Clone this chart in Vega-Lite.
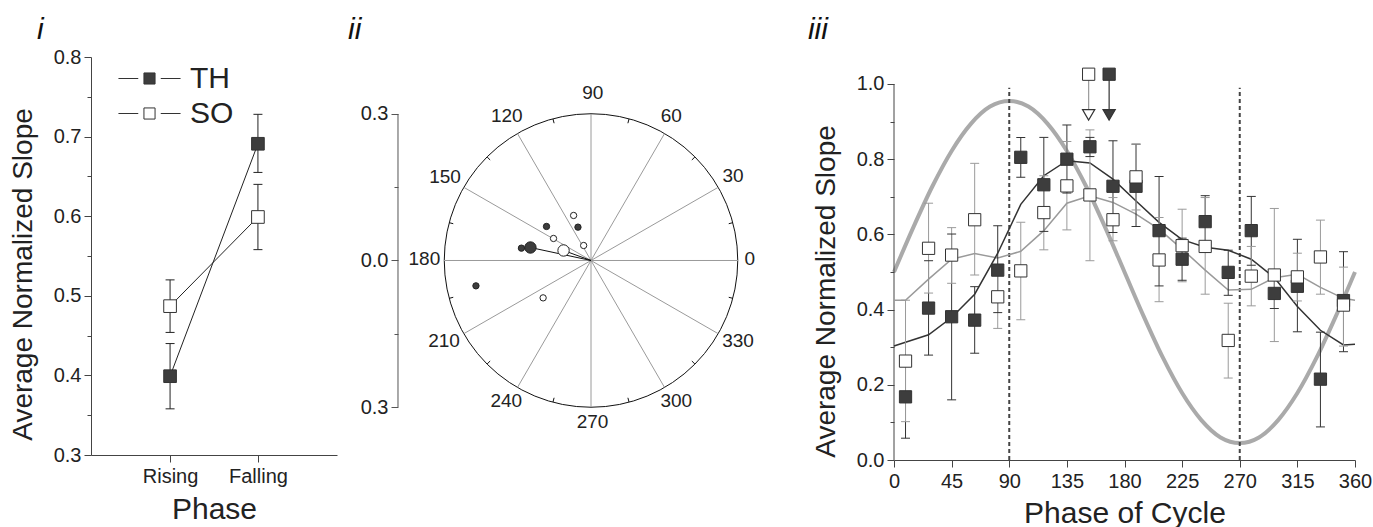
{
  "$schema": "https://vega.github.io/schema/vega-lite/v6.json",
  "autosize": {"type": "pad"},
  "padding": {"left": 9, "top": 14, "right": 0, "bottom": 0},
  "spacing": 0,
  "config": {
    "view": {"stroke": null},
    "font": "Liberation Sans",
    "axis": {"grid": false, "domainColor": "#444", "tickColor": "#444", "labelColor": "#222", "titleColor": "#222", "labelFont": "Liberation Sans", "titleFont": "Liberation Sans", "labelFontSize": 20, "titleFontSize": 28, "titleFontWeight": "normal", "labelPadding": 3},
    "text": {"font": "Liberation Sans"},
    "legend": {"labelFont": "Liberation Sans"}
  },
  "hconcat": [
    {
      "width": 246,
      "height": 398,
      "data": {"values": [
        {"phase": 1, "series": "TH", "mean": 0.399, "lo": 0.358, "hi": 0.440},
        {"phase": 2, "series": "TH", "mean": 0.691, "lo": 0.655, "hi": 0.728},
        {"phase": 1, "series": "SO", "mean": 0.487, "lo": 0.454, "hi": 0.520},
        {"phase": 2, "series": "SO", "mean": 0.599, "lo": 0.558, "hi": 0.640}
      ]},
      "resolve": {"axis": {"x": "independent", "y": "independent"}},
      "layer": [
        {
          "mark": {"type": "line", "color": "#222", "strokeWidth": 1},
          "encoding": {
            "x": {"field": "phase", "type": "quantitative", "scale": {"domain": [0.1, 2.9], "nice": false, "zero": false},
                  "axis": {"values": [1, 2], "labelExpr": "datum.value == 1 ? 'Rising' : 'Falling'", "title": "Phase", "titleFontSize": 30, "titlePadding": 8, "labelPadding": 4, "tickSize": 7}},
            "y": {"field": "mean", "type": "quantitative", "scale": {"domain": [0.3, 0.8], "nice": false, "zero": false},
                  "axis": {"orient": "left", "values": [0.3, 0.4, 0.5, 0.6, 0.7, 0.8], "format": ".1f", "tickSize": 7, "title": "Average Normalized Slope", "titlePadding": 16, "titleY": 217}},
            "detail": {"field": "series", "type": "nominal"}
          }
        },
        {
          "mark": {"type": "rule", "color": "#222", "strokeWidth": 1},
          "encoding": {
            "x": {"field": "phase", "type": "quantitative", "axis": null},
            "y": {"field": "lo", "type": "quantitative", "axis": {"orient": "left", "values": [0.35, 0.45, 0.55, 0.65, 0.75], "labels": false, "domain": false, "tickSize": 4, "title": null}},
            "y2": {"field": "hi"}
          }
        },
        {
          "mark": {"type": "tick", "orient": "horizontal", "size": 9, "thickness": 1, "color": "#222", "opacity": 1},
          "encoding": {
            "x": {"field": "phase", "type": "quantitative", "axis": null},
            "y": {"field": "lo", "type": "quantitative", "axis": null}
          }
        },
        {
          "mark": {"type": "tick", "orient": "horizontal", "size": 9, "thickness": 1, "color": "#222", "opacity": 1},
          "encoding": {
            "x": {"field": "phase", "type": "quantitative", "axis": null},
            "y": {"field": "hi", "type": "quantitative", "axis": null}
          }
        },
        {
          "mark": {"type": "point", "shape": "square", "filled": true, "size": 160, "strokeWidth": 1, "opacity": 1},
          "encoding": {
            "x": {"field": "phase", "type": "quantitative", "axis": null},
            "y": {"field": "mean", "type": "quantitative", "axis": null},
            "fill": {"field": "series", "type": "nominal", "scale": {"domain": ["TH", "SO"], "range": ["#3d3d3d", "#ffffff"]},
                     "legend": {"title": null, "orient": "none", "legendX": 43, "legendY": 6, "padding": 0, "symbolType": "M-2.07,0H-0.75M0.75,0H2.07M-0.37,-0.37H0.37V0.37H-0.37Z", "symbolSize": 900, "symbolStrokeWidth": 1, "labelFontSize": 30, "labelOffset": 25, "labelColor": "#222", "rowPadding": 4}},
            "stroke": {"field": "series", "type": "nominal", "scale": {"domain": ["TH", "SO"], "range": ["#333333", "#333333"]},
                     "legend": {"title": null, "orient": "none", "legendX": 43, "legendY": 6, "padding": 0, "symbolType": "M-2.07,0H-0.75M0.75,0H2.07M-0.37,-0.37H0.37V0.37H-0.37Z", "symbolSize": 900, "symbolStrokeWidth": 1, "labelFontSize": 30, "labelOffset": 25, "labelColor": "#222", "rowPadding": 4}}
          }
        },
        {
          "data": {"values": [{"label": "i", "x": -0.515, "y": 0.8226}]},
          "mark": {"type": "text", "fontSize": 30, "fontStyle": "italic", "color": "#111", "align": "left", "baseline": "alphabetic"},
          "encoding": {
            "x": {"field": "x", "type": "quantitative", "axis": null},
            "y": {"field": "y", "type": "quantitative", "axis": null},
            "text": {"field": "label", "type": "nominal"}
          }
        }
      ]
    },
    {"width": 11, "height": 1, "data": {"values": []}, "mark": "point"},
    {
      "width": 294,
      "height": 350,
      "resolve": {"axis": {"x": "independent", "y": "independent"}},
      "layer": [
        {
          "data": {"values": [{"x": 0, "y": 0}]},
          "mark": {"type": "point", "shape": "circle", "filled": false, "size": 86142, "stroke": "#111", "strokeWidth": 1, "opacity": 1},
          "encoding": {
            "x": {"field": "x", "type": "quantitative", "scale": {"domain": [-0.3, 0.3], "nice": false, "zero": false}, "axis": null},
            "y": {"field": "y", "type": "quantitative", "scale": {"domain": [-0.3, 0.4167], "nice": false, "zero": false},
                  "axis": {"orient": "left", "values": [-0.3, 0, 0.3], "labelExpr": "format(abs(datum.value), '.1f')", "tickSize": 7, "title": null, "offset": 46, "domain": false, "tickColor": "#555"}}
          }
        },
        {
          "data": {"values": [{"x": -0.3939, "y": -0.3, "y2": 0.3}]},
          "mark": {"type": "rule", "color": "#555", "strokeWidth": 1},
          "encoding": {
            "x": {"field": "x", "type": "quantitative", "axis": null},
            "y": {"field": "y", "type": "quantitative", "axis": {"orient": "left", "values": [-0.15, 0.15], "labels": false, "domain": false, "tickSize": 4, "title": null, "offset": 46, "tickColor": "#555"}},
            "y2": {"field": "y2"}
          }
        },
        {
          "data": {"values": [
            {"x": 0.3, "y": 0, "x2": -0.3, "y2": 0},
            {"x": 0.2598, "y": 0.15, "x2": -0.2598, "y2": -0.15},
            {"x": 0.15, "y": 0.2598, "x2": -0.15, "y2": -0.2598},
            {"x": 0, "y": 0.3, "x2": 0, "y2": -0.3},
            {"x": -0.15, "y": 0.2598, "x2": 0.15, "y2": -0.2598},
            {"x": -0.2598, "y": 0.15, "x2": 0.2598, "y2": -0.15}
          ]},
          "mark": {"type": "rule", "color": "#9a9a9a", "strokeWidth": 1},
          "encoding": {
            "x": {"field": "x", "type": "quantitative", "axis": null},
            "y": {"field": "y", "type": "quantitative", "axis": null},
            "x2": {"field": "x2"},
            "y2": {"field": "y2"}
          }
        },
        {
          "data": {"values": [
            {"x": 0.2898, "y": 0.0776, "x2": 0.2811, "y2": 0.0753},
            {"x": 0.2121, "y": 0.2121, "x2": 0.2058, "y2": 0.2058},
            {"x": 0.0776, "y": 0.2898, "x2": 0.0753, "y2": 0.2811},
            {"x": -0.0776, "y": 0.2898, "x2": -0.0753, "y2": 0.2811},
            {"x": -0.2121, "y": 0.2121, "x2": -0.2058, "y2": 0.2058},
            {"x": -0.2898, "y": 0.0776, "x2": -0.2811, "y2": 0.0753},
            {"x": -0.2898, "y": -0.0776, "x2": -0.2811, "y2": -0.0753},
            {"x": -0.2121, "y": -0.2121, "x2": -0.2058, "y2": -0.2058},
            {"x": -0.0776, "y": -0.2898, "x2": -0.0753, "y2": -0.2811},
            {"x": 0.0776, "y": -0.2898, "x2": 0.0753, "y2": -0.2811},
            {"x": 0.2121, "y": -0.2121, "x2": 0.2058, "y2": -0.2058},
            {"x": 0.2898, "y": -0.0776, "x2": 0.2811, "y2": -0.0753}
          ]},
          "mark": {"type": "rule", "color": "#111", "strokeWidth": 1},
          "encoding": {
            "x": {"field": "x", "type": "quantitative", "axis": null},
            "y": {"field": "y", "type": "quantitative", "axis": null},
            "x2": {"field": "x2"},
            "y2": {"field": "y2"}
          }
        },
        {
          "data": {"values": [
            {"x": 0, "y": 0, "x2": -0.1236, "y2": 0.0266},
            {"x": 0, "y": 0, "x2": -0.056, "y2": 0.0205}
          ]},
          "mark": {"type": "rule", "color": "#111", "strokeWidth": 1},
          "encoding": {
            "x": {"field": "x", "type": "quantitative", "axis": null},
            "y": {"field": "y", "type": "quantitative", "axis": null},
            "x2": {"field": "x2"},
            "y2": {"field": "y2"}
          }
        },
        {
          "data": {"values": [
            {"series": "TH", "kind": "small", "x": -0.0908, "y": 0.0697},
            {"series": "TH", "kind": "small", "x": -0.0266, "y": 0.0683},
            {"series": "TH", "kind": "small", "x": -0.142, "y": 0.0253},
            {"series": "TH", "kind": "small", "x": -0.2348, "y": -0.0519},
            {"series": "TH", "kind": "large", "x": -0.1236, "y": 0.0266},
            {"series": "SO", "kind": "small", "x": -0.0355, "y": 0.0922},
            {"series": "SO", "kind": "small", "x": -0.0765, "y": 0.0451},
            {"series": "SO", "kind": "small", "x": -0.015, "y": 0.0307},
            {"series": "SO", "kind": "small", "x": -0.0977, "y": -0.0765},
            {"series": "SO", "kind": "large", "x": -0.056, "y": 0.0205}
          ]},
          "mark": {"type": "point", "shape": "circle", "filled": true, "stroke": "#222", "strokeWidth": 1, "opacity": 1},
          "encoding": {
            "x": {"field": "x", "type": "quantitative", "axis": null},
            "y": {"field": "y", "type": "quantitative", "axis": null},
            "fill": {"field": "series", "type": "nominal", "scale": {"domain": ["TH", "SO"], "range": ["#333333", "#ffffff"]}, "legend": null},
            "size": {"field": "kind", "type": "nominal", "scale": {"domain": ["small", "large"], "range": [40, 130]}, "legend": null}
          }
        },
        {
          "data": {"values": [
            {"label": "90", "x": 0.0035, "y": 0.342},
            {"label": "60", "x": 0.164, "y": 0.295},
            {"label": "30", "x": 0.290, "y": 0.172},
            {"label": "0", "x": 0.324, "y": 0.003},
            {"label": "330", "x": 0.300, "y": -0.165},
            {"label": "300", "x": 0.174, "y": -0.288},
            {"label": "270", "x": 0.003, "y": -0.331},
            {"label": "240", "x": -0.173, "y": -0.288},
            {"label": "210", "x": -0.300, "y": -0.165},
            {"label": "180", "x": -0.340, "y": 0.003},
            {"label": "150", "x": -0.298, "y": 0.171},
            {"label": "120", "x": -0.172, "y": 0.295}
          ]},
          "mark": {"type": "text", "fontSize": 19, "color": "#222", "align": "center", "baseline": "middle"},
          "encoding": {
            "x": {"field": "x", "type": "quantitative", "axis": null},
            "y": {"field": "y", "type": "quantitative", "axis": null},
            "text": {"field": "label", "type": "nominal"}
          }
        },
        {
          "data": {"values": [{"label": "ii", "x": -0.4959, "y": 0.4536}]},
          "mark": {"type": "text", "fontSize": 30, "fontStyle": "italic", "color": "#111", "align": "left", "baseline": "alphabetic"},
          "encoding": {
            "x": {"field": "x", "type": "quantitative", "axis": null},
            "y": {"field": "y", "type": "quantitative", "axis": null},
            "text": {"field": "label", "type": "nominal"}
          }
        }
      ]
    },
    {"width": 51, "height": 1, "data": {"values": []}, "mark": "point"},
    {
      "width": 461,
      "height": 403,
      "resolve": {"axis": {"x": "independent", "y": "independent"}},
      "layer": [
        {
          "data": {"values": [
            {"phase": 0, "val": 0.500}, {"phase": 15, "val": 0.618}, {"phase": 30, "val": 0.728}, {"phase": 45, "val": 0.822},
            {"phase": 60, "val": 0.894}, {"phase": 75, "val": 0.940}, {"phase": 90, "val": 0.955}, {"phase": 105, "val": 0.940},
            {"phase": 120, "val": 0.894}, {"phase": 135, "val": 0.822}, {"phase": 150, "val": 0.728}, {"phase": 165, "val": 0.618},
            {"phase": 180, "val": 0.500}, {"phase": 195, "val": 0.382}, {"phase": 210, "val": 0.272}, {"phase": 225, "val": 0.178},
            {"phase": 240, "val": 0.106}, {"phase": 255, "val": 0.060}, {"phase": 270, "val": 0.045}, {"phase": 285, "val": 0.060},
            {"phase": 300, "val": 0.106}, {"phase": 315, "val": 0.178}, {"phase": 330, "val": 0.272}, {"phase": 345, "val": 0.382},
            {"phase": 360, "val": 0.500}
          ]},
          "mark": {"type": "line", "color": "#aaaaaa", "strokeWidth": 4, "interpolate": "monotone"},
          "encoding": {
            "x": {"field": "phase", "type": "quantitative", "scale": {"domain": [0, 360], "nice": false, "zero": false},
                  "axis": {"values": [0, 45, 90, 135, 180, 225, 270, 315, 360], "title": "Phase of Cycle", "titleFontSize": 30, "titlePadding": 7, "labelPadding": 4, "labelFlush": false, "tickSize": 7}},
            "y": {"field": "val", "type": "quantitative", "scale": {"domain": [0, 1.0718], "nice": false, "zero": false},
                  "axis": {"orient": "left", "values": [0, 0.2, 0.4, 0.6, 0.8, 1.0], "format": ".1f", "tickSize": 7, "domain": false, "title": "Average Normalized Slope", "titlePadding": 16, "titleY": 234}}
          }
        },
        {
          "data": {"values": [{"phase": 0, "lo": 0, "hi": 1}]},
          "mark": {"type": "rule", "color": "#444", "strokeWidth": 1},
          "encoding": {
            "x": {"field": "phase", "type": "quantitative", "axis": null},
            "y": {"field": "lo", "type": "quantitative", "axis": {"orient": "left", "values": [0.1, 0.3, 0.5, 0.7, 0.9], "labels": false, "domain": false, "tickSize": 4, "title": null}},
            "y2": {"field": "hi"}
          }
        },
        {
          "data": {"values": [{"phase": 90}, {"phase": 270}]},
          "mark": {"type": "rule", "color": "#444", "strokeWidth": 2, "strokeDash": [4, 3]},
          "encoding": {
            "x": {"field": "phase", "type": "quantitative", "axis": null},
            "y": {"datum": 0, "type": "quantitative", "axis": null},
            "y2": {"datum": 0.99}
          }
        },
        {
          "data": {"values": [
            {"series": "SO", "phase": 0, "val": 0.425}, {"series": "SO", "phase": 9, "val": 0.425}, {"series": "SO", "phase": 27, "val": 0.481},
            {"series": "SO", "phase": 45, "val": 0.534}, {"series": "SO", "phase": 63, "val": 0.549}, {"series": "SO", "phase": 81, "val": 0.537},
            {"series": "SO", "phase": 99, "val": 0.555}, {"series": "SO", "phase": 117, "val": 0.610}, {"series": "SO", "phase": 135, "val": 0.683},
            {"series": "SO", "phase": 153, "val": 0.703}, {"series": "SO", "phase": 171, "val": 0.685}, {"series": "SO", "phase": 189, "val": 0.654},
            {"series": "SO", "phase": 207, "val": 0.614}, {"series": "SO", "phase": 225, "val": 0.561}, {"series": "SO", "phase": 243, "val": 0.505},
            {"series": "SO", "phase": 261, "val": 0.452}, {"series": "SO", "phase": 279, "val": 0.454}, {"series": "SO", "phase": 297, "val": 0.485},
            {"series": "SO", "phase": 315, "val": 0.494}, {"series": "SO", "phase": 333, "val": 0.459}, {"series": "SO", "phase": 351, "val": 0.430},
            {"series": "SO", "phase": 360, "val": 0.425},
            {"series": "TH", "phase": 0, "val": 0.303}, {"series": "TH", "phase": 9, "val": 0.313}, {"series": "TH", "phase": 27, "val": 0.333},
            {"series": "TH", "phase": 45, "val": 0.379}, {"series": "TH", "phase": 63, "val": 0.441}, {"series": "TH", "phase": 81, "val": 0.550},
            {"series": "TH", "phase": 99, "val": 0.680}, {"series": "TH", "phase": 117, "val": 0.756}, {"series": "TH", "phase": 135, "val": 0.796},
            {"series": "TH", "phase": 153, "val": 0.790}, {"series": "TH", "phase": 171, "val": 0.747}, {"series": "TH", "phase": 189, "val": 0.689},
            {"series": "TH", "phase": 207, "val": 0.632}, {"series": "TH", "phase": 225, "val": 0.586}, {"series": "TH", "phase": 243, "val": 0.566},
            {"series": "TH", "phase": 261, "val": 0.558}, {"series": "TH", "phase": 279, "val": 0.534}, {"series": "TH", "phase": 297, "val": 0.485},
            {"series": "TH", "phase": 315, "val": 0.408}, {"series": "TH", "phase": 333, "val": 0.345}, {"series": "TH", "phase": 351, "val": 0.306},
            {"series": "TH", "phase": 360, "val": 0.308}
          ]},
          "mark": {"type": "line", "strokeWidth": 1.5},
          "encoding": {
            "x": {"field": "phase", "type": "quantitative", "axis": null},
            "y": {"field": "val", "type": "quantitative", "axis": null},
            "color": {"field": "series", "type": "nominal", "scale": {"domain": ["TH", "SO"], "range": ["#333333", "#9a9a9a"]}, "legend": null}
          }
        },
        {
          "data": {"values": [
            {"series": "TH", "phase": 9, "mean": 0.168, "lo": 0.058, "hi": 0.278},
            {"series": "TH", "phase": 27, "mean": 0.404, "lo": 0.279, "hi": 0.530},
            {"series": "TH", "phase": 45, "mean": 0.381, "lo": 0.160, "hi": 0.601},
            {"series": "TH", "phase": 63, "mean": 0.372, "lo": 0.284, "hi": 0.461},
            {"series": "TH", "phase": 81, "mean": 0.505, "lo": 0.392, "hi": 0.623},
            {"series": "TH", "phase": 99, "mean": 0.805, "lo": 0.752, "hi": 0.858},
            {"series": "TH", "phase": 117, "mean": 0.732, "lo": 0.608, "hi": 0.858},
            {"series": "TH", "phase": 135, "mean": 0.800, "lo": 0.710, "hi": 0.891},
            {"series": "TH", "phase": 153, "mean": 0.833, "lo": 0.807, "hi": 0.858},
            {"series": "TH", "phase": 171, "mean": 0.728, "lo": 0.605, "hi": 0.849},
            {"series": "TH", "phase": 189, "mean": 0.728, "lo": 0.621, "hi": 0.840},
            {"series": "TH", "phase": 207, "mean": 0.610, "lo": 0.463, "hi": 0.754},
            {"series": "TH", "phase": 225, "mean": 0.534, "lo": 0.478, "hi": 0.590},
            {"series": "TH", "phase": 243, "mean": 0.634, "lo": 0.565, "hi": 0.703},
            {"series": "TH", "phase": 261, "mean": 0.499, "lo": 0.438, "hi": 0.558},
            {"series": "TH", "phase": 279, "mean": 0.610, "lo": 0.518, "hi": 0.701},
            {"series": "TH", "phase": 297, "mean": 0.443, "lo": 0.403, "hi": 0.483},
            {"series": "TH", "phase": 315, "mean": 0.462, "lo": 0.341, "hi": 0.587},
            {"series": "TH", "phase": 333, "mean": 0.215, "lo": 0.088, "hi": 0.340},
            {"series": "TH", "phase": 351, "mean": 0.424, "lo": 0.288, "hi": 0.554},
            {"series": "SO", "phase": 9, "mean": 0.263, "lo": 0.102, "hi": 0.425},
            {"series": "SO", "phase": 27, "mean": 0.563, "lo": 0.444, "hi": 0.683},
            {"series": "SO", "phase": 45, "mean": 0.545, "lo": 0.470, "hi": 0.618},
            {"series": "SO", "phase": 63, "mean": 0.639, "lo": 0.492, "hi": 0.789},
            {"series": "SO", "phase": 81, "mean": 0.434, "lo": 0.350, "hi": 0.520},
            {"series": "SO", "phase": 99, "mean": 0.503, "lo": 0.373, "hi": 0.632},
            {"series": "SO", "phase": 117, "mean": 0.658, "lo": 0.559, "hi": 0.756},
            {"series": "SO", "phase": 135, "mean": 0.729, "lo": 0.612, "hi": 0.847},
            {"series": "SO", "phase": 153, "mean": 0.705, "lo": 0.530, "hi": 0.878},
            {"series": "SO", "phase": 171, "mean": 0.639, "lo": 0.583, "hi": 0.698},
            {"series": "SO", "phase": 189, "mean": 0.753, "lo": 0.665, "hi": 0.840},
            {"series": "SO", "phase": 207, "mean": 0.532, "lo": 0.421, "hi": 0.645},
            {"series": "SO", "phase": 225, "mean": 0.570, "lo": 0.474, "hi": 0.667},
            {"series": "SO", "phase": 243, "mean": 0.568, "lo": 0.441, "hi": 0.698},
            {"series": "SO", "phase": 261, "mean": 0.318, "lo": 0.218, "hi": 0.417},
            {"series": "SO", "phase": 279, "mean": 0.489, "lo": 0.410, "hi": 0.568},
            {"series": "SO", "phase": 297, "mean": 0.492, "lo": 0.315, "hi": 0.669},
            {"series": "SO", "phase": 315, "mean": 0.487, "lo": 0.423, "hi": 0.550},
            {"series": "SO", "phase": 333, "mean": 0.540, "lo": 0.441, "hi": 0.638},
            {"series": "SO", "phase": 351, "mean": 0.412, "lo": 0.303, "hi": 0.513}
          ]},
          "layer": [
            {
              "mark": {"type": "rule", "strokeWidth": 1},
              "encoding": {
                "x": {"field": "phase", "type": "quantitative", "axis": null},
                "y": {"field": "lo", "type": "quantitative", "axis": null},
                "y2": {"field": "hi"},
                "color": {"field": "series", "type": "nominal", "scale": {"domain": ["TH", "SO"], "range": ["#222222", "#555555"]}, "legend": null}
              }
            },
            {
              "mark": {"type": "tick", "orient": "horizontal", "size": 9, "thickness": 1, "opacity": 1},
              "encoding": {
                "x": {"field": "phase", "type": "quantitative", "axis": null},
                "y": {"field": "lo", "type": "quantitative", "axis": null},
                "color": {"field": "series", "type": "nominal", "legend": null}
              }
            },
            {
              "mark": {"type": "tick", "orient": "horizontal", "size": 9, "thickness": 1, "opacity": 1},
              "encoding": {
                "x": {"field": "phase", "type": "quantitative", "axis": null},
                "y": {"field": "hi", "type": "quantitative", "axis": null},
                "color": {"field": "series", "type": "nominal", "legend": null}
              }
            },
            {
              "mark": {"type": "point", "shape": "square", "filled": true, "size": 150, "strokeWidth": 1, "opacity": 1},
              "encoding": {
                "x": {"field": "phase", "type": "quantitative", "axis": null},
                "y": {"field": "mean", "type": "quantitative", "axis": null},
                "fill": {"field": "series", "type": "nominal", "scale": {"domain": ["TH", "SO"], "range": ["#3d3d3d", "#ffffff"]}, "legend": null},
                "stroke": {"field": "series", "type": "nominal", "scale": {"domain": ["TH", "SO"], "range": ["#3d3d3d", "#555555"]}, "legend": null}
              }
            }
          ]
        },
        {
          "data": {"values": [
            {"series": "SO", "phase": 152, "top": 1.026, "tip": 0.918},
            {"series": "TH", "phase": 168, "top": 1.026, "tip": 0.918}
          ]},
          "layer": [
            {
              "mark": {"type": "rule", "strokeWidth": 1.2},
              "encoding": {
                "x": {"field": "phase", "type": "quantitative", "axis": null},
                "y": {"field": "top", "type": "quantitative", "axis": null},
                "y2": {"field": "tip"},
                "color": {"field": "series", "type": "nominal", "scale": {"domain": ["TH", "SO"], "range": ["#888888", "#333333"]}, "legend": null}
              }
            },
            {
              "mark": {"type": "point", "shape": "triangle-down", "filled": true, "size": 150, "stroke": "#333", "strokeWidth": 1.2, "opacity": 1},
              "encoding": {
                "x": {"field": "phase", "type": "quantitative", "axis": null},
                "y": {"field": "tip", "type": "quantitative", "axis": null},
                "fill": {"field": "series", "type": "nominal", "scale": {"domain": ["TH", "SO"], "range": ["#333333", "#ffffff"]}, "legend": null}
              }
            },
            {
              "mark": {"type": "point", "shape": "square", "filled": true, "size": 150, "strokeWidth": 1, "opacity": 1},
              "encoding": {
                "x": {"field": "phase", "type": "quantitative", "axis": null},
                "y": {"field": "top", "type": "quantitative", "axis": null},
                "fill": {"field": "series", "type": "nominal", "scale": {"domain": ["TH", "SO"], "range": ["#3d3d3d", "#ffffff"]}, "legend": null},
                "stroke": {"field": "series", "type": "nominal", "scale": {"domain": ["TH", "SO"], "range": ["#3d3d3d", "#555555"]}, "legend": null}
              }
            }
          ]
        },
        {
          "data": {"values": [{"label": "iii", "x": -67.2, "y": 1.1197}]},
          "mark": {"type": "text", "fontSize": 30, "fontStyle": "italic", "color": "#111", "align": "left", "baseline": "alphabetic"},
          "encoding": {
            "x": {"field": "x", "type": "quantitative", "axis": null},
            "y": {"field": "y", "type": "quantitative", "axis": null},
            "text": {"field": "label", "type": "nominal"}
          }
        }
      ]
    }
  ]
}
